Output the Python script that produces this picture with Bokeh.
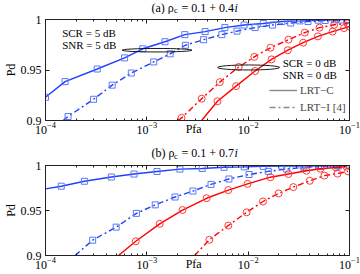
from bokeh.plotting import figure
from bokeh.layouts import column
from bokeh.models import (LogAxis, LinearAxis, Label, Range1d, FixedTicker,
                          Legend, LegendItem, CustomJSTickFormatter)
from bokeh.embed import file_html
from bokeh.resources import INLINE

SERIF = "Liberation Serif"

# ---------------- data ----------------
pfa_ticks = [1e-4, 1e-3, 1e-2, 1e-1]
pfa_minor = [m * 10.0 ** e for e in (-4, -3, -2) for m in range(2, 10)]
pd_ticks = [0.9, 0.95, 1.0]
pd_tick_labels = ["0.9", "0.95", "1"]

# panel (a)  rho_c = 0.1 + 0.4i
a_c5_pfa = [1.0e-4, 1.56e-4, 3.24e-4, 6.03e-4, 9.12e-4, 1.51e-3, 2.37e-3, 3.76e-3, 5.89e-3,
            9.12e-3, 1.41e-2, 2.15e-2, 3.24e-2, 4.90e-2, 7.08e-2, 9.33e-2]
a_c5_pd = [0.923, 0.9385, 0.951, 0.962, 0.971, 0.978, 0.985, 0.988, 0.992,
           0.9945, 0.996, 0.998, 0.9986, 0.9993, 0.9997, 1.0]
a_i5_pfa = [1.49e-4, 1.67e-4, 2.98e-4, 4.55e-4, 7.03e-4, 1.17e-3, 1.70e-3, 2.40e-3, 3.63e-3,
            5.50e-3, 7.76e-3, 1.17e-2, 1.74e-2, 2.63e-2, 3.89e-2, 5.75e-2, 8.32e-2]
a_i5_pd = [0.9, 0.904, 0.921, 0.935, 0.947, 0.958, 0.966, 0.9745, 0.980,
           0.985, 0.9885, 0.992, 0.9945, 0.9965, 0.998, 0.999, 0.9995]
a_c0_pfa = [3.47e-3, 4.98e-3, 7.60e-3, 1.17e-2, 1.70e-2, 2.46e-2, 3.49e-2, 4.88e-2, 6.81e-2,
            8.83e-2, 1.0e-1]
a_c0_pd = [0.9, 0.919, 0.934, 0.949, 0.9605, 0.9696, 0.977, 0.9833, 0.988, 0.9915, 0.993]
a_i0_pfa = [2.04e-3, 2.20e-3, 3.48e-3, 5.25e-3, 8.07e-3, 1.15e-2, 1.66e-2, 2.50e-2, 3.62e-2,
            5.06e-2, 7.06e-2, 9.55e-2]
a_i0_pd = [0.9, 0.9026, 0.9216, 0.938, 0.953, 0.963, 0.972, 0.980, 0.987, 0.9919, 0.9948, 0.996]

# panel (b)  rho_c = 0.1 + 0.7i
b_c5_pfa = [1.0e-4, 1.43e-4, 2.42e-4, 4.46e-4, 7.48e-4, 1.26e-3, 2.12e-3, 3.52e-3, 5.78e-3,
            9.16e-3, 1.41e-2, 2.15e-2, 3.49e-2, 4.94e-2, 7.62e-2, 1.0e-1]
b_c5_pd = [0.974, 0.977, 0.9825, 0.9872, 0.9905, 0.9934, 0.996, 0.9967, 0.998,
           0.9985, 0.999, 0.9993, 0.9995, 0.9997, 0.9998, 0.9999]
b_i5_pfa = [1.96e-4, 2.92e-4, 4.98e-4, 7.89e-4, 1.21e-3, 1.90e-3, 2.85e-3, 4.30e-3, 6.46e-3,
            1.02e-2, 1.58e-2, 2.40e-2, 3.55e-2, 5.25e-2, 7.76e-2]
b_i5_pd = [0.9, 0.917, 0.9315, 0.9468, 0.9563, 0.965, 0.9716, 0.979, 0.985,
           0.990, 0.9935, 0.996, 0.998, 0.999, 0.9995]
b_c0_pfa = [5.25e-4, 7.78e-4, 1.34e-3, 2.25e-3, 3.89e-3, 6.37e-3, 9.86e-3, 1.66e-2, 2.50e-2,
            3.76e-2, 5.16e-2, 7.33e-2, 9.33e-2]
b_c0_pd = [0.9, 0.9158, 0.9352, 0.9505, 0.9636, 0.9727, 0.9796, 0.987, 0.9905,
           0.9942, 0.9964, 0.9978, 0.9989]
b_i0_pfa = [2.96e-3, 4.14e-3, 6.37e-3, 9.66e-3, 1.40e-2, 2.00e-2, 2.79e-2, 4.05e-2, 5.65e-2,
            7.62e-2, 9.66e-2]
b_i0_pd = [0.9, 0.9175, 0.9333, 0.948, 0.960, 0.969, 0.976, 0.983, 0.9888, 0.991, 0.9935]

legend_labels = ["LRT\u2212C", "LRT\u2212I [4]"]

BLUE, BLUE_M = "#1f40ff", "#5a78f5"
RED, RED_M = "#ff0000", "#ff3a3a"
GRAY = "#8a8a8a"
DASHDOT = "6 3 2 3"
INK = "#222222"
X_MID = 10 ** -2.5          # centre of the log x-range
PFA_LABEL_AT = 2.9e-3       # where the x-axis name sits


def blank_fmt():
    return CustomJSTickFormatter(code="return ''")


def title_fig(height, y_mid, tag, tail):
    t = figure(width=360, height=height, x_axis_type="log",
               x_range=Range1d(1e-4, 1e-1), y_range=Range1d(0, 1),
               x_axis_location=None, y_axis_location=None,
               output_backend="svg", toolbar_location=None,
               min_border_left=39, min_border_right=11, min_border_top=0, min_border_bottom=0)
    t.outline_line_color = None
    t.grid.visible = False
    kw = dict(x=X_MID, y=y_mid, text_font=SERIF, text_baseline="middle", text_color="black")
    t.add_layout(Label(text=tag + " \u03c1", x_offset=-46, text_font_size="12px", **kw))
    t.add_layout(Label(text="c", x_offset=-23.5, y_offset=-2.5, text_font_size="8.5px", **kw))
    t.add_layout(Label(text="= 0.1 + 0." + tail, x_offset=-16, text_font_size="12px", **kw))
    t.add_layout(Label(text="i", x_offset=37, text_font_size="12px",
                       text_font_style="italic", **kw))
    return t


def make_panel(height, b_top, b_bottom, curves):
    p = figure(width=360, height=height, x_axis_type="log",
               x_range=Range1d(1e-4, 1e-1), y_range=Range1d(0.9, 1.0),
               output_backend="svg", toolbar_location=None,
               min_border_left=39, min_border_right=11,
               min_border_top=b_top, min_border_bottom=b_bottom)
    p.outline_line_color = INK
    p.grid.visible = False

    # bottom axis: ticks only (no labels, zero extent)
    xa = p.xaxis[0]
    xa.ticker = FixedTicker(ticks=pfa_ticks, minor_ticks=pfa_minor)
    xa.formatter = blank_fmt()
    xa.major_label_text_font_size = "0px"
    xa.major_label_standoff = 0
    ya = p.yaxis[0]
    ya.ticker = FixedTicker(ticks=pd_ticks)
    ya.major_label_overrides = {t: s for t, s in zip(pd_ticks, pd_tick_labels)}
    for ax in (xa, ya):
        ax.major_tick_in = 4
        ax.major_tick_out = 0
        ax.minor_tick_in = 2
        ax.minor_tick_out = 0
        ax.axis_line_color = INK
        ax.major_tick_line_color = INK
        ax.minor_tick_line_color = INK
    ya.major_label_text_font = SERIF
    ya.major_label_text_font_size = "12px"
    ya.major_label_text_color = "black"
    ya.major_label_standoff = 4
    ya.minor_tick_line_color = None
    ya.axis_label = "Pd"
    ya.axis_label_standoff = 0
    ya.axis_label_text_font = SERIF
    ya.axis_label_text_font_size = "12px"
    ya.axis_label_text_font_style = "normal"
    ya.axis_label_text_color = "black"

    # bottom axis: labels only (decade labels + the axis name on the same row)
    lab = LogAxis(ticker=FixedTicker(ticks=pfa_ticks + [PFA_LABEL_AT]),
                  major_label_overrides={PFA_LABEL_AT: "Pfa"},
                  major_label_standoff=1, major_tick_in=0, major_tick_out=0,
                  major_tick_line_color=None, minor_tick_line_color=None,
                  axis_line_color=None,
                  major_label_text_font=SERIF, major_label_text_font_size="12px",
                  major_label_text_color="black")
    p.add_layout(lab, "below")

    top = LogAxis(ticker=FixedTicker(ticks=pfa_ticks, minor_ticks=pfa_minor),
                  formatter=blank_fmt(), major_label_standoff=0,
                  major_label_text_font_size="0px", major_tick_in=4, major_tick_out=0,
                  minor_tick_in=2, minor_tick_out=0, axis_line_color=INK,
                  major_tick_line_color=INK, minor_tick_line_color=INK)
    p.add_layout(top, "above")
    right = LinearAxis(ticker=FixedTicker(ticks=pd_ticks), formatter=blank_fmt(),
                       major_label_standoff=0, major_label_text_font_size="0px",
                       major_tick_in=4, major_tick_out=0, minor_tick_line_color=None,
                       axis_line_color=INK, major_tick_line_color=INK)
    p.add_layout(right, "right")

    for xs, ys, color, mcolor, dash, marker, size, m0 in curves:
        p.line(xs, ys, line_color=color, line_width=1.4, line_dash=dash)
        p.scatter(xs[m0:], ys[m0:], marker=marker, size=size, line_color=mcolor,
                  fill_color=None, line_width=1)
    return p


ta = title_fig(14, 0.5, "(a)", "4")
pa = make_panel(124, 5, 17, [
    (a_c5_pfa, a_c5_pd, BLUE, BLUE_M, "solid", "square", 6, 0),
    (a_i5_pfa, a_i5_pd, BLUE, BLUE_M, DASHDOT, "square", 6, 1),
    (a_c0_pfa, a_c0_pd, RED, RED_M, "solid", "circle", 7, 1),
    (a_i0_pfa, a_i0_pd, RED, RED_M, DASHDOT, "circle", 7, 1),
])
tb = title_fig(22, 0.32, "(b)", "7")
pb = make_panel(114, 5, 19, [
    (b_c5_pfa, b_c5_pd, BLUE, BLUE_M, "solid", "square", 6, 1),
    (b_i5_pfa, b_i5_pd, BLUE, BLUE_M, DASHDOT, "square", 6, 1),
    (b_c0_pfa, b_c0_pd, RED, RED_M, "solid", "circle", 7, 1),
    (b_i0_pfa, b_i0_pd, RED, RED_M, DASHDOT, "circle", 7, 1),
])

# annotations in panel (a)
tkw = dict(text_font=SERIF, text_font_size="11px", text_baseline="middle", text_color="black")
pa.add_layout(Label(x=1.46e-4, y=0.9863, text="SCR = 5 dB", **tkw))
pa.add_layout(Label(x=1.46e-4, y=0.9748, text="SNR = 5 dB", **tkw))
pa.add_layout(Label(x=2.19e-2, y=0.9574, text="SCR = 0 dB", **tkw))
pa.add_layout(Label(x=2.19e-2, y=0.9454, text="SNR = 0 dB", **tkw))
pa.ellipse(x=[1.26e-3], y=[0.9696], width=70, height=3.5, width_units="screen",
           height_units="screen", fill_color=None, line_color="black", line_width=0.9)
pa.ellipse(x=[1.01e-2], y=[0.9525], width=62, height=5, width_units="screen",
           height_units="screen", fill_color=None, line_color="black", line_width=0.9)

nan = float("nan")
r_c = pa.line([nan], [nan], line_color=GRAY, line_width=1.4)
r_i = pa.line([nan], [nan], line_color=GRAY, line_width=1.4, line_dash=DASHDOT)
leg = Legend(items=[LegendItem(label=legend_labels[0], renderers=[r_c]),
                    LegendItem(label=legend_labels[1], renderers=[r_i])],
             location=(224, 6), border_line_color=None, background_fill_alpha=0,
             label_text_font=SERIF, label_text_font_size="11px", glyph_width=28,
             glyph_height=14, label_height=14, spacing=3, padding=0, margin=0,
             label_standoff=3)
pa.add_layout(leg)

layout = column(ta, pa, tb, pb)
open("out.html", "w").write(file_html(layout, INLINE))
